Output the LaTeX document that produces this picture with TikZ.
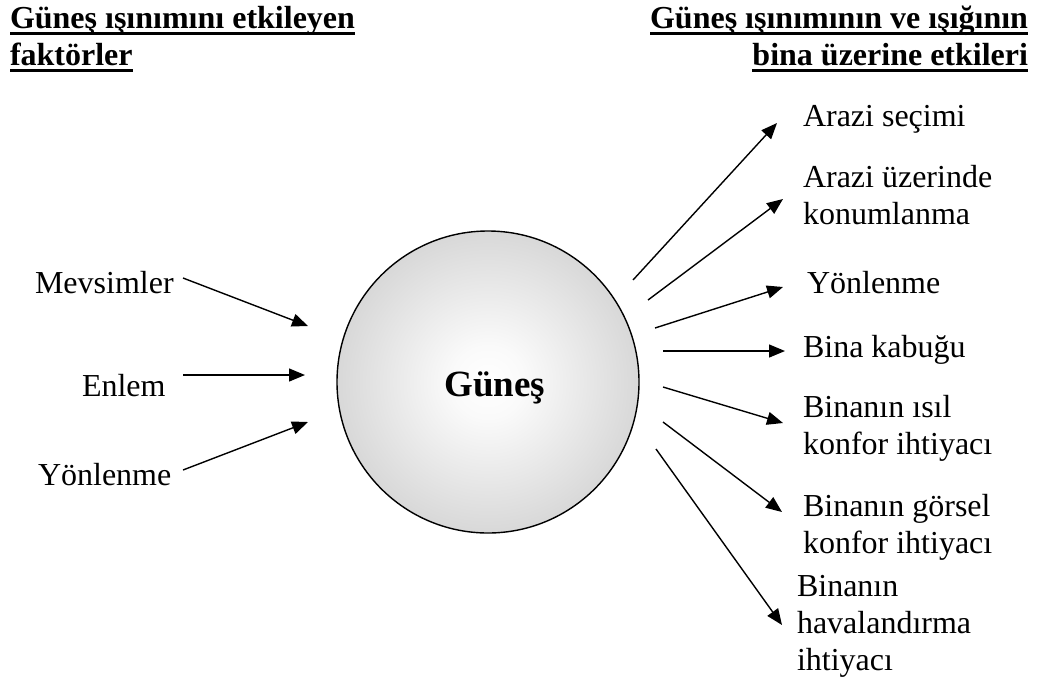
\documentclass[tikz,border=0pt]{standalone}
\usepackage{fontspec}
\setmainfont{Liberation Serif}
\usetikzlibrary{arrows.meta}
% soft white-to-grey fill of the sun disc
\pgfdeclareradialshading{sunshade}{\pgfpoint{0bp}{0bp}}{%
  color(0bp)=(white); color(6bp)=(white!98!black);
  color(36bp)=(black!23); color(50bp)=(black!24)}
\begin{document}
\begin{tikzpicture}[x=1pt,y=-1pt,
  txt/.style={inner sep=0pt,outer sep=0pt,font=\fontsize{32}{37}\selectfont},
  title/.style={txt,font=\fontsize{32}{37}\selectfont\bfseries},
  uline/.style={line width=3pt},
  ray/.style={line width=1.4pt,-{Triangle[length=16pt,width=13pt]}},
  sundisc/.style={circle,draw,line width=1.4pt,minimum size=302pt,inner sep=0pt,shading=sunshade}]
\useasboundingbox (0,0) rectangle (1038,681);

% headings
\node[title,anchor=base west] (hl1) at (10,28) {Güneş ışınımını etkileyen};
\node[title,anchor=base west] (hl2) at (10,65) {faktörler};
\node[title,anchor=base east] (hr1) at (1028,28) {Güneş ışınımının ve ışığının};
\node[title,anchor=base east] (hr2) at (1028,65) {bina üzerine etkileri};
\foreach \n in {hl1,hl2,hr1,hr2}
  \draw[uline] ([yshift=-5.5pt]\n.base west) -- ([yshift=-5.5pt]\n.base east);

% the sun
\node[sundisc] (sun) at (488,382) {};
\node[inner sep=0pt,anchor=base,font=\fontsize{37}{40}\selectfont\bfseries] (sunlabel) at (495,396) {Güneş};

% factors (left)
\node[txt,anchor=base west] (mev) at (35,293) {Mevsimler};
\node[txt,anchor=base west] (enl) at (82,396) {Enlem};
\node[txt,anchor=base west] (yonL) at (38,485) {Yönlenme};

% effects (right)
\newcommand{\lines}[1]{\begin{tabular}[t]{@{}l@{}}#1\end{tabular}}
\node[txt,anchor=base west] (e1) at (803,126) {Arazi seçimi};
\node[txt,anchor=base west] (e2) at (803,187) {\lines{Arazi üzerinde\\konumlanma}};
\node[txt,anchor=base west] (e3) at (807,293) {Yönlenme};
\node[txt,anchor=base west] (e4) at (803,357) {Bina kabuğu};
\node[txt,anchor=base west] (e5) at (803,417) {\lines{Binanın ısıl\\konfor ihtiyacı}};
\node[txt,anchor=base west] (e6) at (803,516) {\lines{Binanın görsel\\konfor ihtiyacı}};
\node[txt,anchor=base west] (e7) at (797,596) {\lines{Binanın\\havalandırma\\ihtiyacı}};

% incoming arrows
\coordinate (mevS) at (183,278); \coordinate (mevT) at (308,326);
\coordinate (enlS) at (183,375); \coordinate (enlT) at (305,375);
\coordinate (yonS) at (183,470); \coordinate (yonT) at (308,422);
\draw[ray] (mevS) -- (mevT);
\draw[ray] (enlS) -- (enlT);
\draw[ray] (yonS) -- (yonT);

% outgoing rays
\coordinate (r1S) at (633,280); \coordinate (r1T) at (777,123);
\coordinate (r2S) at (648,300); \coordinate (r2T) at (783,199);
\coordinate (r3S) at (655,328); \coordinate (r3T) at (783,287);
\coordinate (r4S) at (663,351); \coordinate (r4T) at (785,351);
\coordinate (r5S) at (663,387); \coordinate (r5T) at (783,423);
\coordinate (r6S) at (663,422); \coordinate (r6T) at (782,512);
\coordinate (r7S) at (656,449); \coordinate (r7T) at (782,625);
\foreach \i in {1,...,7}
  \draw[ray] (r\i S) -- (r\i T);
\end{tikzpicture}
\end{document}
